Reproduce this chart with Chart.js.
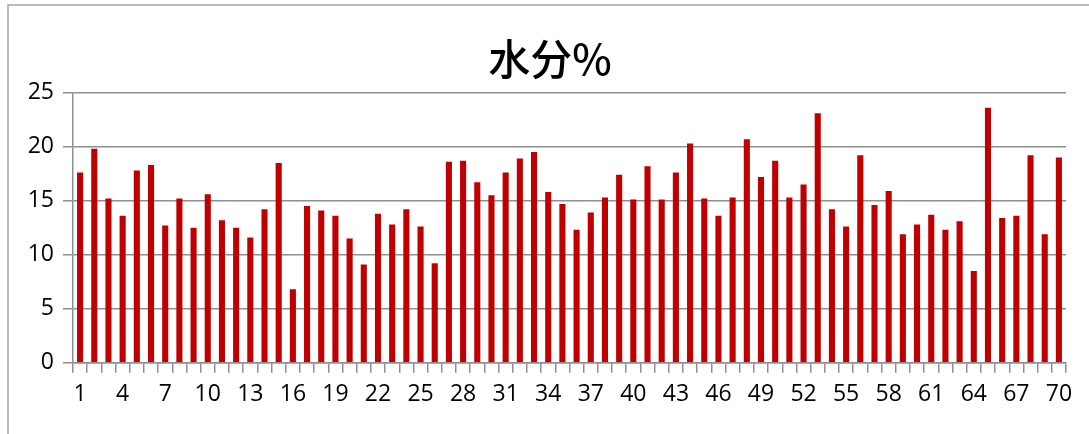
<!DOCTYPE html>
<html>
<head>
<meta charset="utf-8">
<script src="https://cdn.jsdelivr.net/npm/chart.js@4"></script>
<style>
  html, body { margin: 0; padding: 0; background: #fff; }
  #wrap { width: 1089px; height: 434px; position: relative; }
</style>
</head>
<body>
<div id="wrap"><canvas id="c" width="1089" height="434"></canvas></div>
<script>
const titleText = '水分%';
const categories = [];
for (let i = 1; i <= 70; i++) categories.push(String(i));
const moisture = [
  17.6, 19.8, 15.2, 13.6, 17.8, 18.3, 12.7, 15.2, 12.5, 15.6,
  13.2, 12.5, 11.6, 14.2, 18.5, 6.8, 14.5, 14.1, 13.6, 11.5,
  9.1, 13.8, 12.8, 14.2, 12.6, 9.2, 18.6, 18.7, 16.7, 15.5,
  17.6, 18.9, 19.5, 15.8, 14.7, 12.3, 13.9, 15.3, 17.4, 15.1,
  18.2, 15.1, 17.6, 20.3, 15.2, 13.6, 15.3, 20.7, 17.2, 18.7,
  15.3, 16.5, 23.1, 14.2, 12.6, 19.2, 14.6, 15.9, 11.9, 12.8,
  13.7, 12.3, 13.1, 8.5, 23.6, 13.4, 13.6, 19.2, 11.9, 19.0
];
const yTicks = [0, 5, 10, 15, 20, 25];

const frame = {
  id: 'frame',
  beforeDraw(chart) {
    const ctx = chart.ctx;
    ctx.save();
    ctx.fillStyle = '#fff';
    ctx.fillRect(0, 0, chart.width, chart.height);
    ctx.strokeStyle = '#a6a6a6';
    ctx.lineWidth = 1.5;
    ctx.strokeRect(8, 5, 1200, 1000);
    ctx.restore();
  }
};

const titleDraw = {
  id: 'titleDraw',
  afterDraw(chart) {
    const ctx = chart.ctx;
    ctx.save();
    ctx.fillStyle = '#000';
    ctx.font = '500 42px "Noto Sans CJK SC", sans-serif';
    ctx.textAlign = 'center';
    ctx.textBaseline = 'middle';
    ctx.fillText(titleText, 550, 59);
    ctx.restore();
  }
};

const gridColor = '#8f8f8f';
const labelFont = { family: '"Open Sans", "Liberation Sans", sans-serif', size: 23 };

new Chart(document.getElementById('c'), {
  type: 'bar',
  data: {
    labels: categories,
    datasets: [{
      data: moisture,
      backgroundColor: '#C00000',
      borderWidth: 0,
      barPercentage: 0.43,
      categoryPercentage: 1.0
    }]
  },
  options: {
    responsive: false,
    animation: false,
    events: [],
    layout: { padding: { left: 0, right: 23, top: 92.7, bottom: 0 } },
    plugins: {
      legend: { display: false },
      tooltip: { enabled: false },
      title: { display: false }
    },
    scales: {
      x: {
        afterFit(scale) { scale.height = 71.3; },
        grid: {
          offset: true,
          drawOnChartArea: false,
          drawTicks: true,
          tickLength: 10,
          color: gridColor,
          lineWidth: 1.5
        },
        border: { display: true, color: gridColor, width: 1.5 },
        ticks: {
          autoSkip: false,
          maxRotation: 0,
          minRotation: 0,
          padding: 8,
          color: '#000',
          font: labelFont,
          callback(v, i) { return i % 3 === 0 ? categories[i] : ''; }
        }
      },
      y: {
        min: yTicks[0],
        max: yTicks[yTicks.length - 1],
        afterFit(scale) { scale.width = 73; },
        afterBuildTicks(scale) { scale.ticks = yTicks.map(v => ({ value: v })); },
        grid: {
          drawOnChartArea: true,
          drawTicks: true,
          tickLength: 10,
          color: gridColor,
          lineWidth: 1.5
        },
        border: { display: true, color: gridColor, width: 1.5 },
        ticks: {
          padding: 9,
          color: '#000',
          font: labelFont
        }
      }
    }
  },
  plugins: [frame, titleDraw]
});
</script>
</body>
</html>
